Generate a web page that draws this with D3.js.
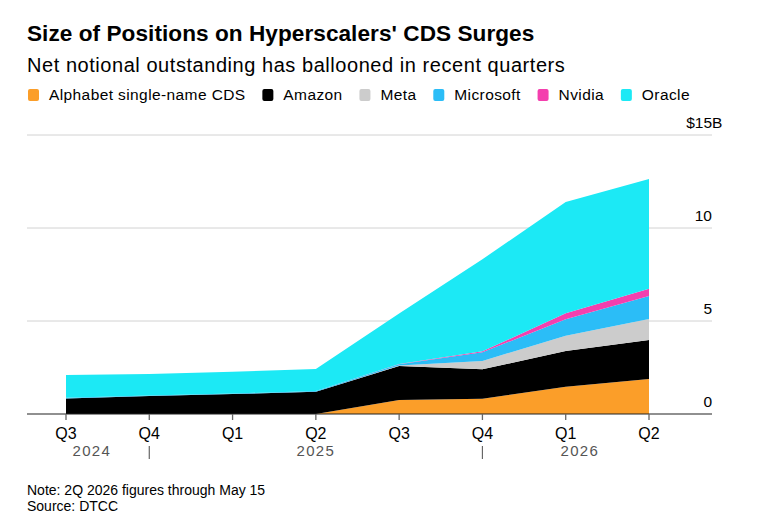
<html>
    <head>
        <script src="https://d3js.org/d3.v7.min.js" charset="utf-8"></script>
        <style>
            body { margin: 0; background: #fff; }
            svg text { font-family: "Liberation Sans", Arial, sans-serif; }
        </style>
    </head>

    <body>
        <div id="chartcontainer"></div>

        <script type="text/javascript">
            // quarters on the x axis
            var quarters = ["2024Q3", "2024Q4", "2025Q1", "2025Q2", "2025Q3", "2025Q4", "2026Q1", "2026Q2"];
            var quarterLabels = ["Q3", "Q4", "Q1", "Q2", "Q3", "Q4", "Q1", "Q2"];
            var years = ["2024", "2025", "2026"];

            // net notional outstanding, $B
            var alphabet  = [0, 0, 0, 0, 0.75, 0.82, 1.47, 1.88];
            var amazon    = [0.84, 0.97, 1.07, 1.20, 1.83, 1.58, 1.92, 2.10];
            var meta      = [0, 0, 0, 0, 0.03, 0.45, 0.82, 1.13];
            var microsoft = [0.03, 0.03, 0.03, 0.03, 0.07, 0.47, 0.88, 1.23];
            var nvidia    = [0, 0, 0, 0, 0.01, 0.05, 0.32, 0.40];
            var oracle    = [1.23, 1.15, 1.17, 1.19, 2.71, 4.95, 5.99, 5.89];

            var seriesNames = ["Alphabet single-name CDS", "Amazon", "Meta", "Microsoft", "Nvidia", "Oracle"];
            var seriesValues = [alphabet, amazon, meta, microsoft, nvidia, oracle];
            var colors = ["#fb9e29", "#000000", "#cccccc", "#2bbdf7", "#f43fae", "#1ce9f5"];
            var yTicks = [0, 5, 10, 15];

            var rows = quarters.map(function(q, i) {
                var r = {quarter: q};
                seriesNames.forEach(function(s, j) { r[s] = seriesValues[j][i]; });
                return r;
            });

            var W = 759, H = 523;
            var svg = d3.select("#chartcontainer").append("svg").attr("width", W).attr("height", H);

            var left = 27, right = 712;
            var x = d3.scalePoint().domain(quarters).range([66, 649]);
            var y = d3.scaleLinear().domain([0, 15]).range([414, 135]);

            // titles
            svg.append("text").attr("x", left).attr("y", 41).style("font-size", "22.6px").style("font-weight", "bold")
                .style("letter-spacing", "0.05px").text("Size of Positions on Hyperscalers' CDS Surges");
            svg.append("text").attr("x", left).attr("y", 72).style("font-size", "20px")
                .style("letter-spacing", "0.55px").text("Net notional outstanding has ballooned in recent quarters");

            // legend
            var lx = left;
            seriesNames.forEach(function(s, j) {
                svg.append("rect").attr("x", lx + 1).attr("y", 89).attr("width", 11).attr("height", 12)
                    .attr("rx", 2).attr("fill", colors[j]);
                var t = svg.append("text").attr("x", lx + 22).attr("y", 100).style("font-size", "15.5px")
                    .style("letter-spacing", "0.4px").text(s);
                lx += 22 + t.node().getComputedTextLength() + 15.8;
            });

            // gridlines
            svg.selectAll(".grid").data(yTicks.filter(function(d) { return d > 0; })).enter().append("line")
                .attr("x1", left).attr("x2", right).attr("y1", function(d) { return y(d); }).attr("y2", function(d) { return y(d); })
                .attr("stroke", "#d2d2d2").attr("stroke-width", 1);

            // stacked areas
            var stack = d3.stack().keys(seriesNames);
            var layers = stack(rows);
            var area = d3.area()
                .x(function(d) { return x(d.data.quarter); })
                .y0(function(d) { return y(d[0]); })
                .y1(function(d) { return y(d[1]); });
            svg.selectAll(".layer").data(layers).enter().append("path")
                .attr("d", area).attr("fill", function(d, i) { return colors[i]; });

            // y labels
            yTicks.forEach(function(v) {
                var t = svg.append("text").attr("y", y(v) - 7).style("font-size", "15.5px").attr("text-anchor", "end");
                if (v == 15) {
                    t.text("B");
                    var bw = t.node().getComputedTextLength();
                    t.text("$" + v + "B").attr("x", right + bw);
                } else {
                    t.attr("x", right).text(v);
                }
            });

            // baseline + ticks
            svg.append("line").attr("x1", left).attr("x2", right).attr("y1", y(0)).attr("y2", y(0))
                .attr("stroke", "#222").attr("stroke-width", 1.2);
            quarters.forEach(function(q, i) {
                svg.append("line").attr("x1", x(q)).attr("x2", x(q)).attr("y1", y(0)).attr("y2", y(0) + 6)
                    .attr("stroke", "#666").attr("stroke-width", 1.3);
                svg.append("text").attr("x", x(q)).attr("y", 439).attr("text-anchor", "middle")
                    .style("font-size", "16px").text(quarterLabels[i]);
            });

            // year labels and separators
            var step = x.step();
            var yearPos = [x("2024Q3") + step * 0.31, x("2025Q2"), x("2026Q1") + step * 0.17];
            years.forEach(function(yr, i) {
                svg.append("text").attr("x", yearPos[i]).attr("y", 456).attr("text-anchor", "middle")
                    .style("font-size", "15px").style("letter-spacing", "1.3px").attr("fill", "#555").text(yr);
            });
            ["2024Q4", "2025Q4"].forEach(function(q) {
                svg.append("line").attr("x1", x(q)).attr("x2", x(q)).attr("y1", 446).attr("y2", 459)
                    .attr("stroke", "#666").attr("stroke-width", 1.2);
            });

            // footnotes
            svg.append("text").attr("x", left).attr("y", 495).style("font-size", "14px")
                .text("Note: 2Q 2026 figures through May 15");
            svg.append("text").attr("x", left).attr("y", 511).style("font-size", "14px")
                .text("Source: DTCC");
        </script>
    </body>
</html>
